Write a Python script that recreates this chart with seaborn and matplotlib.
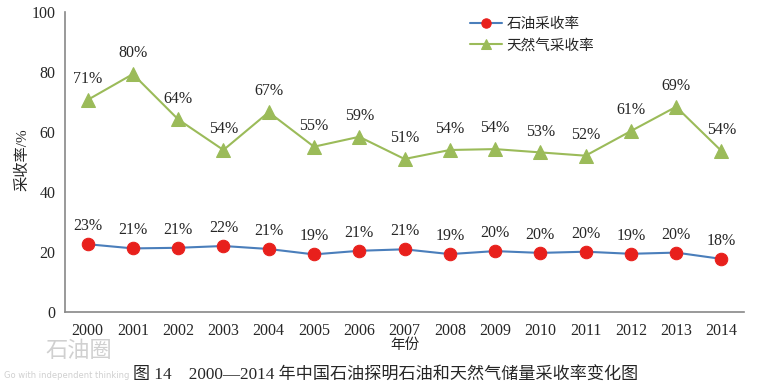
import numpy as np
import pandas as pd
import matplotlib
matplotlib.use("Agg")
import matplotlib.pyplot as plt
import seaborn as sns

years = ["2000", "2001", "2002", "2003", "2004", "2005", "2006", "2007",
         "2008", "2009", "2010", "2011", "2012", "2013", "2014"]
oil_rate = [22.6, 21.2, 21.4, 22.0, 21.0, 19.2, 20.4, 20.9, 19.3, 20.3, 19.7, 20.1, 19.4, 19.8, 17.7]
gas_rate = [70.7, 79.3, 64.2, 54.0, 66.6, 55.1, 58.4, 51.0, 54.0, 54.3, 53.2, 52.1, 60.3, 68.4, 53.7]
oil_labels = ["23%", "21%", "21%", "22%", "21%", "19%", "21%", "21%", "19%", "20%", "20%", "20%", "19%", "20%", "18%"]
gas_labels = ["71%", "80%", "64%", "54%", "67%", "55%", "59%", "51%", "54%", "54%", "53%", "52%", "61%", "69%", "54%"]
series_names = ["石油采收率", "天然气采收率"]

sns.set_style("white")
plt.rcParams["font.family"] = ["Liberation Serif", "Noto Sans CJK SC"]

df = pd.DataFrame({"x": np.arange(len(years)), "oil": oil_rate, "gas": gas_rate})

fig = plt.figure(figsize=(7.75, 3.88), dpi=100)
ax = fig.add_axes([65 / 775, 1 - 312 / 388, (744 - 65) / 775, 300 / 388])

sns.lineplot(data=df, x="x", y="oil", ax=ax, color="#4a7ebb", lw=1.5,
             marker="o", markersize=9, markerfacecolor="#e8201c",
             markeredgecolor="#e8201c", label=series_names[0])
sns.lineplot(data=df, x="x", y="gas", ax=ax, color="#9bbb59", lw=1.5,
             marker="^", markersize=10, markerfacecolor="#9bbb59",
             markeredgecolor="#9bbb59", label=series_names[1])

for i in range(len(years)):
    ax.annotate(oil_labels[i], (i, oil_rate[i]), xytext=(0, 13), textcoords="offset points",
                ha="center", va="center", fontsize=11.5)
    ax.annotate(gas_labels[i], (i, gas_rate[i]), xytext=(0, 15), textcoords="offset points",
                ha="center", va="center", fontsize=11.5)

ax.set_xlim(-0.5, len(years) - 0.5)
ax.set_ylim(0, 100)
ax.set_yticks([0, 20, 40, 60, 80, 100])
ax.set_xticks(np.arange(len(years)))
ax.set_xticklabels(years, fontsize=11.5)
ax.set_xticks(np.arange(len(years) + 1) - 0.5, minor=True)
ax.tick_params(axis="x", which="major", length=0, pad=8)
ax.tick_params(axis="x", which="minor", length=6, color="#888888", direction="out")
ax.tick_params(axis="y", length=5, color="#888888", direction="out", labelsize=11.5, pad=2)
ax.set_xlabel("")
ax.set_ylabel("")
sns.despine(ax=ax)
for s in ["left", "bottom"]:
    ax.spines[s].set_color("#888888")
    ax.spines[s].set_linewidth(1.2)

fig.text(22 / 775, 1 - 160 / 388, "采收率/%", rotation=90, ha="center", va="center", fontsize=11)
fig.text(405 / 775, 1 - 345 / 388, "年份", ha="center", va="center", fontsize=10.5)
fig.text(386 / 775, 1 - 376 / 388, "图 14　2000—2014 年中国石油探明石油和天然气储量采收率变化图",
         ha="center", va="center", fontsize=12.3)
fig.text(45 / 775, 1 - 352 / 388, "石油圈", ha="left", va="center", fontsize=16,
         color="#d0d0d0", zorder=0)
fig.text(4 / 775, 1 - 376 / 388, "Go with independent thinking", ha="left", va="center",
         fontsize=6, color="#d0d0d0", family=["DejaVu Sans"], zorder=0)

leg = ax.legend(loc="upper left", bbox_to_anchor=(392 / 679, 1.025), frameon=False,
                fontsize=10.5, handlelength=2.2, handletextpad=0.3, labelspacing=0.5,
                markerscale=0.75)

fig.savefig("out.png", dpi=100)
